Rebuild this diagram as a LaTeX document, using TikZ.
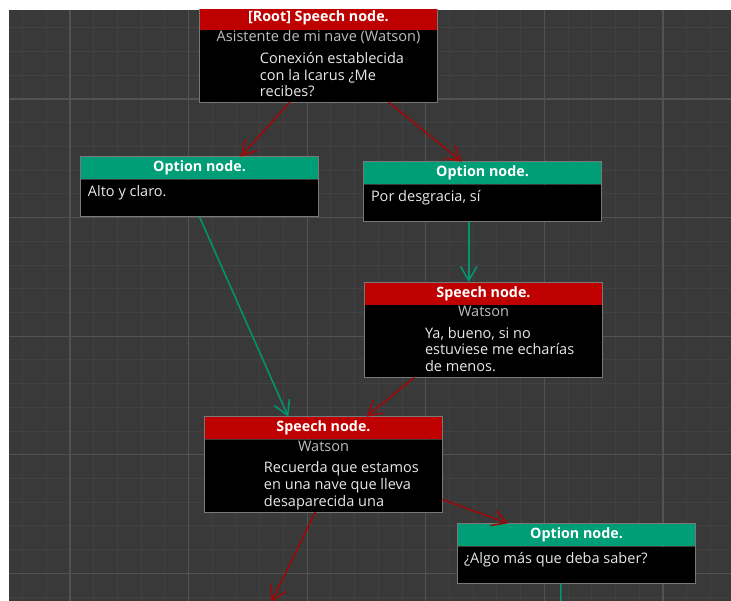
\documentclass[tikz,border=0pt]{standalone}
\usepackage{fontspec}
\setmainfont{Open Sans}
\usetikzlibrary{positioning, arrows.meta, calc}
\definecolor{gridBg}{RGB}{57,57,57}
\definecolor{gridMinor}{RGB}{65,65,65}
\definecolor{gridMajor}{RGB}{82,82,82}
\definecolor{speechRed}{RGB}{190,0,0}
\definecolor{optionTeal}{RGB}{0,158,118}
\definecolor{linkRed}{RGB}{158,8,8}
\definecolor{linkTeal}{RGB}{0,150,112}
\definecolor{boxGray}{RGB}{120,120,120}
\definecolor{whoGray}{RGB}{190,190,190}
\definecolor{lineWhite}{RGB}{232,232,232}

\begin{document}
\begin{tikzpicture}[x=0.03cm, y=-0.03cm,
  head/.style={minimum width=7.11cm, minimum height=0.675cm, inner sep=0pt,
               anchor=north, text=white, font=\bfseries\fontsize{12.2}{14}\selectfont},
  speechhead/.style={head, fill=speechRed},
  optionhead/.style={head, fill=optionTeal},
  speechbody/.style={fill=black, minimum width=7.11cm, minimum height=2.16cm, inner sep=0pt},
  optionbody/.style={fill=black, minimum width=7.11cm, minimum height=1.1cm, inner sep=0pt},
  who/.style={anchor=base, text=whoGray, inner sep=0pt, font=\fontsize{12.4}{14}\selectfont},
  lines/.style={anchor=base west, align=left, text=lineWhite, inner sep=0pt,
                font=\fontsize{12.4}{14.2}\selectfont},
  frame/.style={draw=boxGray, line width=0.8pt},
  redlink/.style={draw=linkRed, line width=1.3pt, -{Straight Barb[length=12pt, width=14pt]}},
  teallink/.style={draw=linkTeal, line width=1.3pt, -{Straight Barb[length=12pt, width=14pt]}},
]
  \useasboundingbox (0,0) rectangle (731,601);
  \fill[white] (0,0) rectangle (731,601);
  \fill[gridBg] (9,10) rectangle (731,601);
  \begin{scope}
  \clip (9,10) rectangle (731,601);
  % grid
  \foreach \k in {-3,...,28}
    \draw[gridMinor, line width=0.8pt] ({70+\k*23.72},10) -- ({70+\k*23.72},601);
  \foreach \k in {-4,...,22}
    \draw[gridMinor, line width=0.8pt] (9,{99+\k*23.72}) -- (731,{99+\k*23.72});
  \foreach \k in {-1,...,6}
    \draw[gridMajor, line width=1.1pt] ({70+\k*118.6},10) -- ({70+\k*118.6},601);
  \foreach \k in {-1,...,5}
    \draw[gridMajor, line width=1.1pt] (9,{99+\k*118.6}) -- (731,{99+\k*118.6});

  % root speech
  \node[speechhead] (root-hd) at (318.5,6.8) {[Root] Speech node.};
  \node[speechbody, below=0pt of root-hd] (root) {};
  \draw[frame] (root-hd.north west) rectangle (root.south east);
  \node[who] (root-who) at ($(root.north)+(0,12)$) {Asistente de mi nave (Watson)};
  \node[lines] (root-txt) at ($(root.north west)+(60,67)$) {Conexión establecida\\con la Icarus ¿Me\\recibes?};

  % options
  \node[optionhead] (opt1-hd) at (199.5,156.7) {Option node.};
  \node[optionbody, below=0pt of opt1-hd] (opt1) {};
  \draw[frame] (opt1-hd.north west) rectangle (opt1.south east);
  \node[lines] (opt1-txt) at ($(opt1.north west)+(7,17)$) {Alto y claro.};

  \node[optionhead] (opt2-hd) at (482.5,161.7) {Option node.};
  \node[optionbody, below=0pt of opt2-hd] (opt2) {};
  \draw[frame] (opt2-hd.north west) rectangle (opt2.south east);
  \node[lines] (opt2-txt) at ($(opt2.north west)+(7,17)$) {Por desgracia, sí};

  % speech nodes
  \node[speechhead] (sp2-hd) at (483.5,282) {Speech node.};
  \node[speechbody, below=0pt of sp2-hd] (sp2) {};
  \draw[frame] (sp2-hd.north west) rectangle (sp2.south east);
  \node[who] (sp2-who) at ($(sp2.north)+(0,12)$) {Watson};
  \node[lines] (sp2-txt) at ($(sp2.north west)+(60,66.5)$) {Ya, bueno, si no\\estuviese me echarías\\de menos.};

  \node[speechhead] (sp3-hd) at (323.5,416.7) {Speech node.};
  \node[speechbody, below=0pt of sp3-hd] (sp3) {};
  \draw[frame] (sp3-hd.north west) rectangle (sp3.south east);
  \node[who] (sp3-who) at ($(sp3.north)+(0,12)$) {Watson};
  \node[lines] (sp3-txt) at ($(sp3.north west)+(59,66.5)$) {Recuerda que estamos\\en una nave que lleva\\desaparecida una};

  \node[optionhead] (opt3-hd) at (576.5,523.3) {Option node.};
  \node[optionbody, below=0pt of opt3-hd] (opt3) {};
  \draw[frame] (opt3-hd.north west) rectangle (opt3.south east);
  \node[lines] (opt3-txt) at ($(opt3.north west)+(6,17)$) {¿Algo más que deba saber?};

  % links
  \coordinate (sp3-next) at (271.5,602);
  \coordinate (opt3-next) at (561,630);
  \draw[redlink] ($(root.south west)+(90,0)$) -- ($(opt1-hd.north west)+(160,0)$);
  \draw[redlink] ($(root.south west)+(189,0)$) -- ($(opt2-hd.north west)+(98,0)$);
  \draw[teallink] (opt1.south) -- ($(sp3-hd.north west)+(83.5,0)$);
  \draw[teallink] ($(opt2.south west)+(105,0)$) -- ($(sp2-hd.north west)+(104,0)$);
  \draw[redlink] ($(sp2.south west)+(49.5,0)$) -- ($(sp3-hd.north west)+(161.5,0)$);
  \draw[redlink] ($(sp3.south east)+(0,-12.7)$) -- ($(opt3-hd.north west)+(50,0)$);
  \draw[redlink] ($(sp3.south west)+(110.5,0)$) -- (sp3-next);
  \draw[teallink] ($(opt3.south west)+(103,0)$) -- (opt3-next);
  \end{scope}
\end{tikzpicture}
\end{document}
